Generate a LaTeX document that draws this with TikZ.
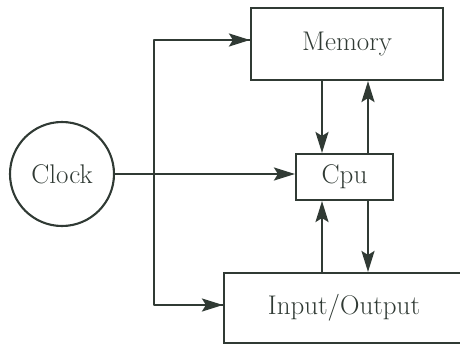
\documentclass[tikz,border=0pt]{standalone}
\usepackage{tikz}
\usetikzlibrary{positioning, arrows.meta}
\definecolor{inkgray}{RGB}{48, 58, 52}

\begin{document}
\begin{tikzpicture}[x=1pt, y=-1pt, line width=2.1pt, draw=inkgray,
    every node/.style={align=center, text=inkgray, font=\fontsize{27}{31}\selectfont},
    unitbox/.style={draw=inkgray, rectangle, line width=2.1pt, inner sep=0pt},
    arr/.style={-{Stealth[length=21pt, width=13pt, inset=4pt]}, draw=inkgray}]
    \useasboundingbox (0,0) rectangle (460,345);

    \node[draw=inkgray, circle, minimum size=104pt, inner sep=0pt] (clk) at (62,174) {Clock};
    \node[unitbox, minimum width=192pt, minimum height=72pt] (mem) at (347,44)  {Memory};
    \node[unitbox, minimum width=97pt,  minimum height=46pt] (cpu) at (344.5,177) {Cpu};
    \node[unitbox, minimum width=240pt, minimum height=70pt] (io)  at (344,308) {Input/Output};

    \coordinate (bustop) at (154,40);
    \coordinate (busbot) at (154,305);

    % clock to the three units
    \draw[arr] (clk.east) -- (clk.east -| cpu.west);
    \draw[line join=round] (bustop -| mem.west) -- (bustop) -- (busbot) -- (busbot -| io.west);
    \draw[arr] (bustop) -- (bustop -| mem.west);
    \draw[arr] (busbot) -- (busbot -| io.west);

    % data paths
    \draw[arr] ([xshift=-22.5pt]cpu.north |- mem.south) -- ([xshift=-22.5pt]cpu.north);
    \draw[arr] ([xshift=23.5pt]cpu.north) -- ([xshift=23.5pt]cpu.north |- mem.south);
    \draw[arr] ([xshift=-22.5pt]cpu.south |- io.north) -- ([xshift=-22.5pt]cpu.south);
    \draw[arr] ([xshift=23.5pt]cpu.south) -- ([xshift=23.5pt]cpu.south |- io.north);
  \end{tikzpicture}
\end{document}
